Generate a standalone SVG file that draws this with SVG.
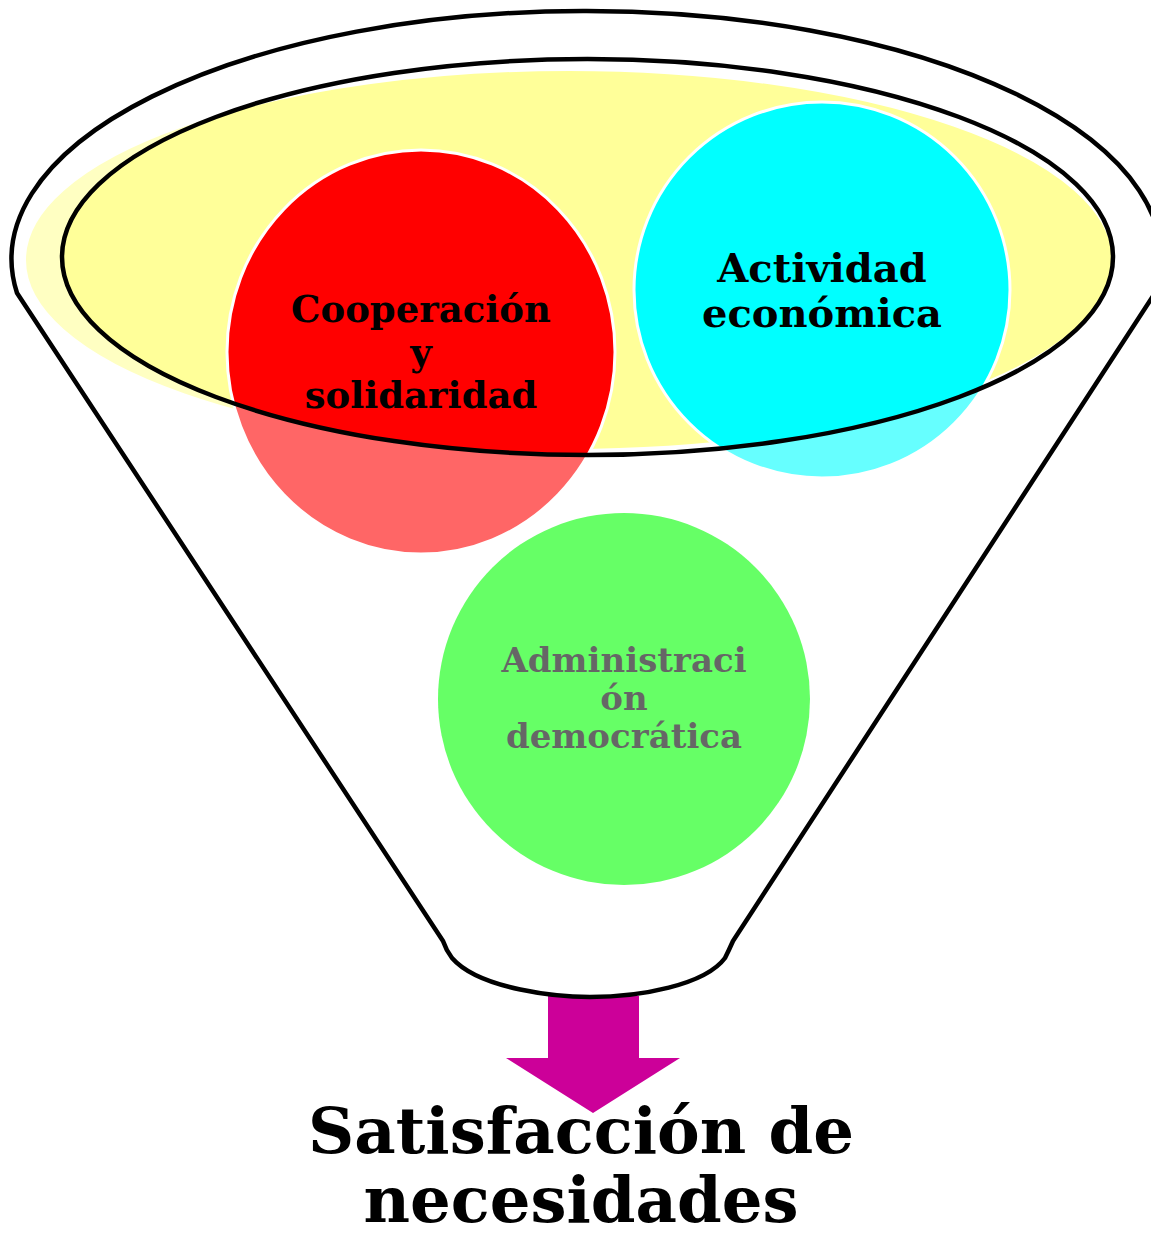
<svg xmlns="http://www.w3.org/2000/svg" width="1151" height="1237" viewBox="0 0 1151 1237">
<style>
.lbl{font-family:"DejaVu Serif","Liberation Serif",serif;font-weight:bold;text-anchor:middle;fill:#000}
.bubble{stroke:#fff;stroke-width:3}
.outline{fill:none;stroke:#000;stroke-width:4.5;stroke-linejoin:round}
</style>
<rect width="1151" height="1237" fill="#fff"/>
<g id="bowl">
<ellipse cx="569" cy="260" rx="544" ry="190" fill="#ffff99" stroke="#fff" stroke-width="2"/>
</g>
<g id="node-cooperacion">
<ellipse class="bubble" cx="421" cy="352" rx="194" ry="202" fill="#ff0000"/>
<text class="lbl" font-size="37" x="421" y="322">Cooperación</text>
<text class="lbl" font-size="37" x="421" y="365">y</text>
<text class="lbl" font-size="37" x="421" y="408">solidaridad</text>
</g>
<g id="node-actividad">
<circle class="bubble" cx="822" cy="290" r="188" fill="#00ffff"/>
<text class="lbl" font-size="40" x="822" y="282">Actividad</text>
<text class="lbl" font-size="40" x="822" y="327">económica</text>
</g>
<g id="node-administracion">
<circle cx="624" cy="699" r="186" fill="#00ff00"/>
<text class="lbl" font-size="34" x="624" y="672">Administraci</text>
<text class="lbl" font-size="34" x="624" y="710">ón</text>
<text class="lbl" font-size="34" x="624" y="748">democrática</text>
</g>
<g id="funnel-shade">
<path fill="#fff" fill-opacity="0.4" fill-rule="evenodd" d="M17,293 A575,248 0 1 1 1157,290 L733,941 Q729,950 725,958 C705,985 640,997 590,997 C560,997 480,990 452,958 Q446,950 443,941 Z M62,257 A525.5,198 0 1 0 1113,257 A525.5,198 0 1 0 62,257 Z"/>
</g>
<g id="connectors">
<polygon points="548,996 639,996 639,1058 680,1058 593,1113 506,1058 548,1058" fill="#cc0099"/>
</g>
<g id="funnel">
<path class="outline" d="M17,293 A575,248 0 1 1 1157,290 L733,941 Q729,950 725,958 C705,985 640,997 590,997 C560,997 480,990 452,958 Q446,950 443,941 Z"/>
<ellipse class="outline" cx="587.5" cy="257" rx="525.5" ry="198"/>
</g>
<g id="node-satisfaccion">
<text class="lbl" font-size="64" x="581" y="1153">Satisfacción de</text>
<text class="lbl" font-size="64" x="581" y="1222">necesidades</text>
</g>
</svg>
